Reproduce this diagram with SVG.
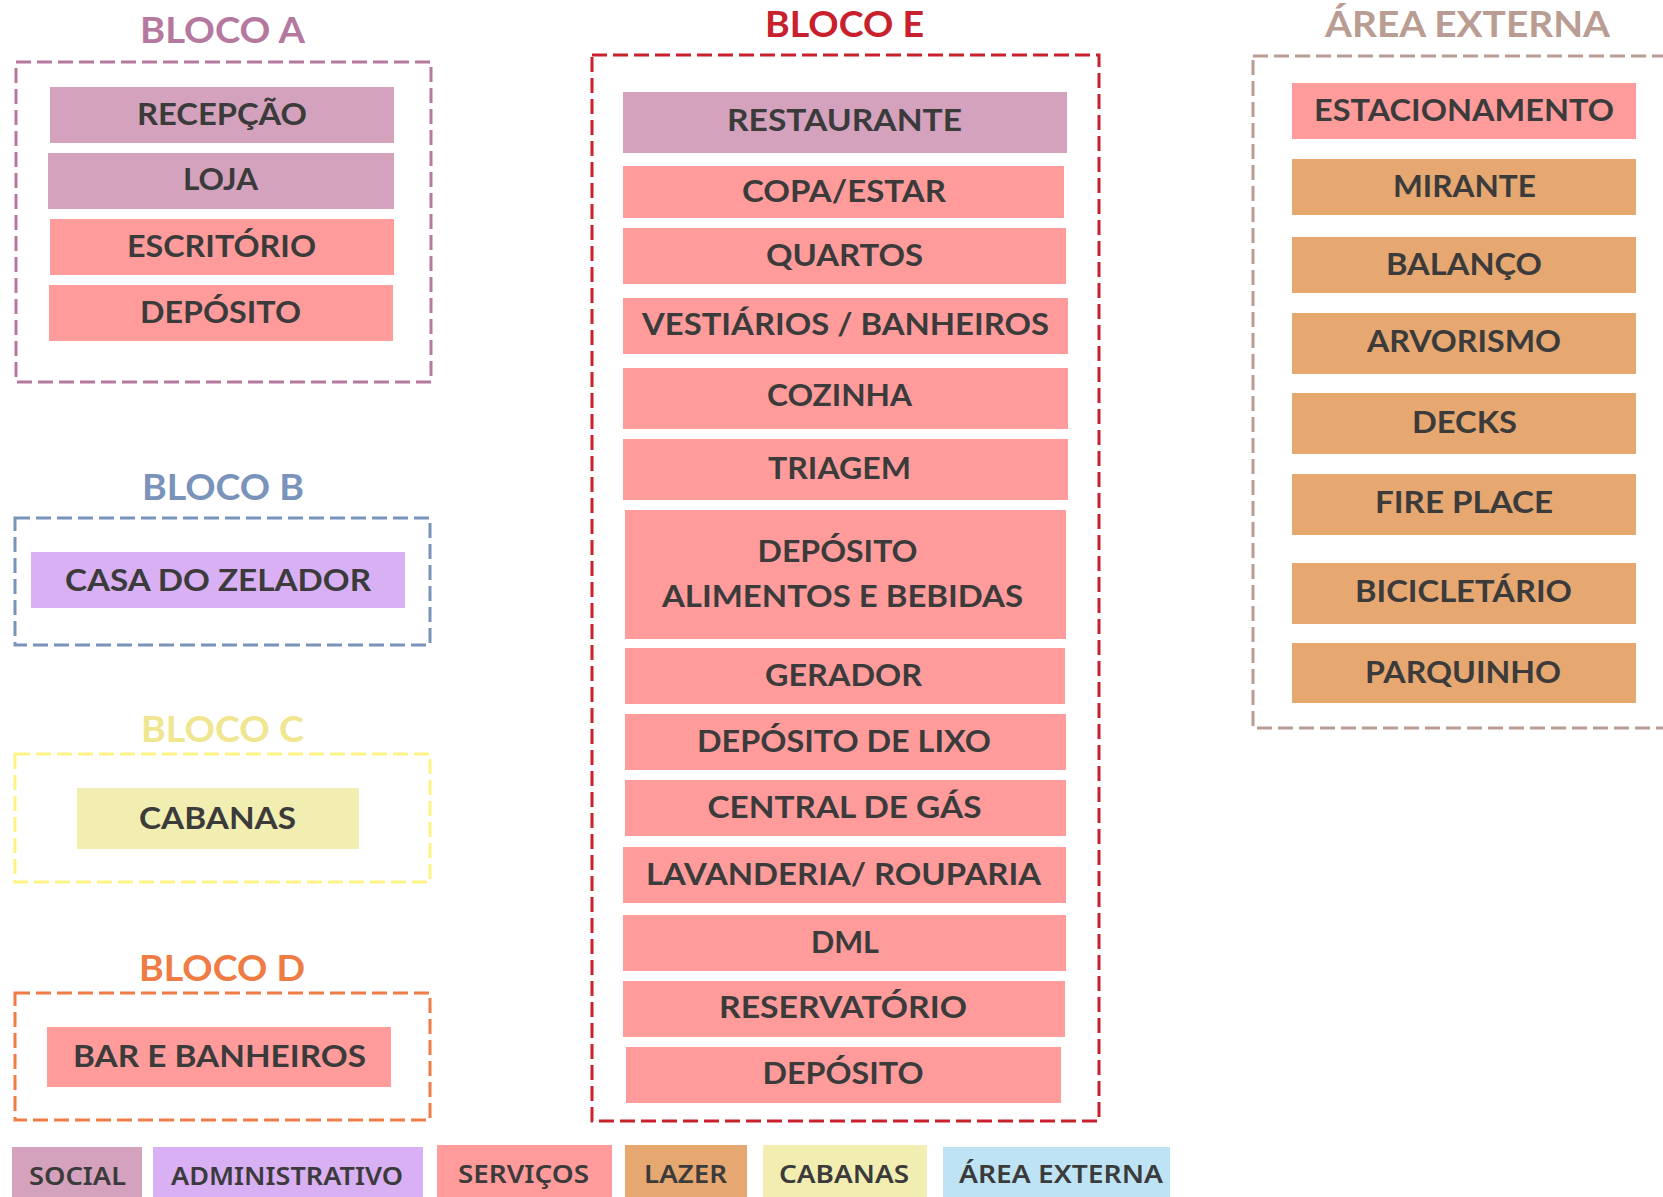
<svg xmlns="http://www.w3.org/2000/svg" width="1663" height="1197" viewBox="0 0 1663 1197">
<style>
  .t { font-family: "Lato", "Noto Sans", "Liberation Sans", sans-serif; font-weight: 700; font-size: 31px; fill: #3b3b3b; text-anchor: middle; }
  .ttl { font-family: "Lato", "Noto Sans", "Liberation Sans", sans-serif; font-weight: 700; font-size: 36px; text-anchor: middle; }
  .lg { font-family: "Noto Sans", "Liberation Sans", sans-serif; font-weight: 600; font-size: 26px; fill: #3b3b3b; text-anchor: middle; }
  .grp { fill: none; stroke-width: 3; stroke-dasharray: 15 6; }
  .soc { fill: #d4a2bd; }
  .adm { fill: #d8b0f3; }
  .srv { fill: #ff9b9b; }
  .laz { fill: #e6a770; }
  .cab { fill: #f2eeb2; }
  .ext { fill: #bde3f4; }
</style>
<rect width="1663" height="1197" fill="#ffffff"/>

<!-- Group frames -->
<g id="bloco-a">
  <text class="ttl" x="222.5" y="43" fill="#b5799f" textLength="165" lengthAdjust="spacingAndGlyphs">BLOCO A</text>
  <rect class="grp" x="16" y="62" width="415" height="320" stroke="#b5799f"/>
</g>
<g id="bloco-b">
  <text class="ttl" x="223" y="500" fill="#7a93ba" textLength="162" lengthAdjust="spacingAndGlyphs">BLOCO B</text>
  <rect class="grp" x="15" y="518" width="415" height="127" stroke="#7a93ba"/>
</g>
<g id="bloco-c">
  <text class="ttl" x="222.5" y="742" fill="#efe68f" textLength="163" lengthAdjust="spacingAndGlyphs">BLOCO C</text>
  <rect class="grp" x="15" y="754" width="415" height="128" stroke="#fff385"/>
</g>
<g id="bloco-d">
  <text class="ttl" x="222" y="981" fill="#ef7b45" textLength="166" lengthAdjust="spacingAndGlyphs">BLOCO D</text>
  <rect class="grp" x="15" y="993" width="415" height="127" stroke="#ef7b45"/>
</g>
<g id="bloco-e">
  <text class="ttl" x="844.5" y="37" fill="#c9202e" textLength="159" lengthAdjust="spacingAndGlyphs">BLOCO E</text>
  <rect class="grp" x="592" y="55" width="507" height="1066" stroke="#c9202e"/>
</g>
<g id="area-externa">
  <text class="ttl" x="1467.5" y="37" fill="#b99c92" textLength="285" lengthAdjust="spacingAndGlyphs">ÁREA EXTERNA</text>
  <rect class="grp" x="1253" y="56" width="440" height="672" stroke="#b99c92"/>
</g>

<!-- Bloco A nodes -->
<g id="recepcao"><rect class="soc" x="50" y="87" width="344" height="56"/><text class="t" x="222" y="125" textLength="170" lengthAdjust="spacingAndGlyphs">RECEPÇÃO</text></g>
<g id="loja"><rect class="soc" x="48" y="153" width="346" height="56"/><text class="t" x="220.5" y="190" textLength="75" lengthAdjust="spacingAndGlyphs">LOJA</text></g>
<g id="escritorio"><rect class="srv" x="50" y="219" width="344" height="56"/><text class="t" x="221.5" y="257" textLength="189" lengthAdjust="spacingAndGlyphs">ESCRITÓRIO</text></g>
<g id="deposito-a"><rect class="srv" x="49" y="285" width="344" height="56"/><text class="t" x="220.5" y="323" textLength="161" lengthAdjust="spacingAndGlyphs">DEPÓSITO</text></g>

<!-- Bloco B -->
<g id="casa-zelador"><rect class="adm" x="31" y="552" width="374" height="56"/><text class="t" x="218" y="591" textLength="306" lengthAdjust="spacingAndGlyphs">CASA DO ZELADOR</text></g>
<!-- Bloco C -->
<g id="cabanas"><rect class="cab" x="77" y="788" width="282" height="61"/><text class="t" x="217.5" y="829" textLength="157" lengthAdjust="spacingAndGlyphs">CABANAS</text></g>
<!-- Bloco D -->
<g id="bar-banheiros"><rect class="srv" x="47" y="1027" width="344" height="60"/><text class="t" x="219.5" y="1067" textLength="293" lengthAdjust="spacingAndGlyphs">BAR E BANHEIROS</text></g>

<!-- Bloco E -->
<g id="restaurante"><rect class="soc" x="623" y="92" width="444" height="61"/><text class="t" x="844.5" y="131" textLength="235" lengthAdjust="spacingAndGlyphs">RESTAURANTE</text></g>
<g id="copa-estar"><rect class="srv" x="623" y="166" width="441" height="52"/><text class="t" x="844" y="202" textLength="204" lengthAdjust="spacingAndGlyphs">COPA/ESTAR</text></g>
<g id="quartos"><rect class="srv" x="623" y="228" width="443" height="56"/><text class="t" x="844.5" y="266" textLength="157" lengthAdjust="spacingAndGlyphs">QUARTOS</text></g>
<g id="vestiarios"><rect class="srv" x="623" y="298" width="445" height="56"/><text class="t" x="845.5" y="335" textLength="407" lengthAdjust="spacingAndGlyphs">VESTIÁRIOS / BANHEIROS</text></g>
<g id="cozinha"><rect class="srv" x="623" y="368" width="445" height="61"/><text class="t" x="839.5" y="406" textLength="145" lengthAdjust="spacingAndGlyphs">COZINHA</text></g>
<g id="triagem"><rect class="srv" x="623" y="439" width="445" height="61"/><text class="t" x="839.5" y="479" textLength="143" lengthAdjust="spacingAndGlyphs">TRIAGEM</text></g>
<g id="deposito-alimentos"><rect class="srv" x="625" y="510" width="441" height="129"/><text class="t" x="837.5" y="562" textLength="160" lengthAdjust="spacingAndGlyphs">DEPÓSITO</text><text class="t" x="842.5" y="607" textLength="361" lengthAdjust="spacingAndGlyphs">ALIMENTOS E BEBIDAS</text></g>
<g id="gerador"><rect class="srv" x="625" y="648" width="440" height="56"/><text class="t" x="843.5" y="686" textLength="157" lengthAdjust="spacingAndGlyphs">GERADOR</text></g>
<g id="deposito-lixo"><rect class="srv" x="625" y="714" width="441" height="56"/><text class="t" x="844" y="752" textLength="294" lengthAdjust="spacingAndGlyphs">DEPÓSITO DE LIXO</text></g>
<g id="central-gas"><rect class="srv" x="625" y="780" width="441" height="56"/><text class="t" x="844.5" y="818" textLength="274" lengthAdjust="spacingAndGlyphs">CENTRAL DE GÁS</text></g>
<g id="lavanderia"><rect class="srv" x="623" y="847" width="443" height="56"/><text class="t" x="843.5" y="885" textLength="395" lengthAdjust="spacingAndGlyphs">LAVANDERIA/ ROUPARIA</text></g>
<g id="dml"><rect class="srv" x="623" y="915" width="443" height="56"/><text class="t" x="845" y="953" textLength="68" lengthAdjust="spacingAndGlyphs">DML</text></g>
<g id="reservatorio"><rect class="srv" x="623" y="981" width="442" height="56"/><text class="t" x="843" y="1018" textLength="248" lengthAdjust="spacingAndGlyphs">RESERVATÓRIO</text></g>
<g id="deposito-e"><rect class="srv" x="626" y="1047" width="435" height="56"/><text class="t" x="843" y="1084" textLength="161" lengthAdjust="spacingAndGlyphs">DEPÓSITO</text></g>

<!-- Área externa -->
<g id="estacionamento"><rect class="srv" x="1292" y="83" width="344" height="56"/><text class="t" x="1464" y="121" textLength="300" lengthAdjust="spacingAndGlyphs">ESTACIONAMENTO</text></g>
<g id="mirante"><rect class="laz" x="1292" y="159" width="344" height="56"/><text class="t" x="1464.5" y="197" textLength="143" lengthAdjust="spacingAndGlyphs">MIRANTE</text></g>
<g id="balanco"><rect class="laz" x="1292" y="237" width="344" height="56"/><text class="t" x="1464" y="275" textLength="156" lengthAdjust="spacingAndGlyphs">BALANÇO</text></g>
<g id="arvorismo"><rect class="laz" x="1292" y="313" width="344" height="61"/><text class="t" x="1464" y="352" textLength="194" lengthAdjust="spacingAndGlyphs">ARVORISMO</text></g>
<g id="decks"><rect class="laz" x="1292" y="393" width="344" height="61"/><text class="t" x="1464.5" y="433" textLength="105" lengthAdjust="spacingAndGlyphs">DECKS</text></g>
<g id="fire-place"><rect class="laz" x="1292" y="474" width="344" height="61"/><text class="t" x="1464" y="513" textLength="178" lengthAdjust="spacingAndGlyphs">FIRE PLACE</text></g>
<g id="bicicletario"><rect class="laz" x="1292" y="563" width="344" height="61"/><text class="t" x="1463.5" y="602" textLength="217" lengthAdjust="spacingAndGlyphs">BICICLETÁRIO</text></g>
<g id="parquinho"><rect class="laz" x="1292" y="643" width="344" height="60"/><text class="t" x="1463" y="683" textLength="196" lengthAdjust="spacingAndGlyphs">PARQUINHO</text></g>

<!-- Legend -->
<g id="legend-social"><rect class="soc" x="12" y="1147" width="130" height="50"/><text class="lg" x="77.5" y="1185" textLength="97" lengthAdjust="spacingAndGlyphs">SOCIAL</text></g>
<g id="legend-administrativo"><rect class="adm" x="153" y="1147" width="270" height="50"/><text class="lg" x="287" y="1185" textLength="232" lengthAdjust="spacingAndGlyphs">ADMINISTRATIVO</text></g>
<g id="legend-servicos"><rect class="srv" x="437" y="1145" width="175" height="52"/><text class="lg" x="523.5" y="1183" textLength="131" lengthAdjust="spacingAndGlyphs">SERVIÇOS</text></g>
<g id="legend-lazer"><rect class="laz" x="625" y="1145" width="122" height="52"/><text class="lg" x="685.5" y="1183" textLength="83" lengthAdjust="spacingAndGlyphs">LAZER</text></g>
<g id="legend-cabanas"><rect class="cab" x="763" y="1145" width="164" height="52"/><text class="lg" x="844" y="1183" textLength="130" lengthAdjust="spacingAndGlyphs">CABANAS</text></g>
<g id="legend-area-externa"><rect class="ext" x="943" y="1147" width="227" height="50"/><text class="lg" x="1061" y="1183" textLength="204" lengthAdjust="spacingAndGlyphs">ÁREA EXTERNA</text></g>

<g id="connectors"></g>
</svg>
